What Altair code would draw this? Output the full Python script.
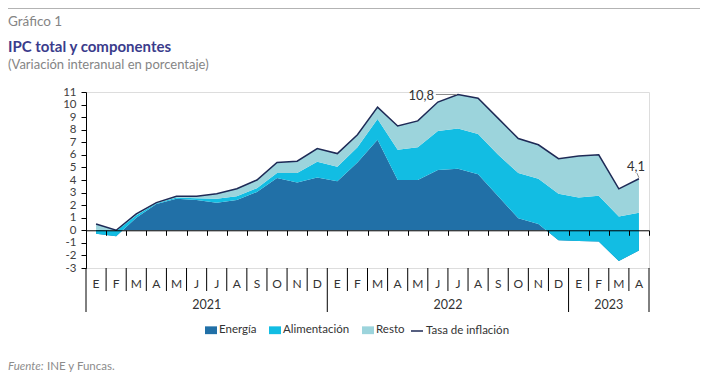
import altair as alt
import pandas as pd

# ---------------- data ----------------
months = ["E", "F", "M", "A", "M", "J", "J", "A", "S", "O", "N", "D",
          "E", "F", "M", "A", "M", "J", "J", "A", "S", "O", "N", "D",
          "E", "F", "M", "A"]
years = ["2021", "2022", "2023"]
year_centers = [6, 18, 26]

energia = [-0.27, -0.48, 1.0, 2.1, 2.5, 2.4, 2.2, 2.4, 3.05, 4.15, 3.8, 4.2,
           3.9, 5.4, 7.2, 4.0, 4.0, 4.8, 4.9, 4.45, 2.7, 0.95, 0.5, -0.8,
           -0.85, -0.9, -2.45, -1.6]
alimentacion = [0.32, 0.43, 0.2, 0.05, 0.1, 0.15, 0.3, 0.3, 0.3, 0.4, 0.75, 1.25,
                1.15, 1.2, 1.65, 2.4, 2.6, 3.1, 3.2, 3.2, 3.3, 3.6, 3.6, 3.7,
                3.45, 3.65, 3.55, 3.0]
resto = [0.45, 0.05, 0.1, 0.05, 0.1, 0.15, 0.4, 0.6, 0.65, 0.85, 0.95, 1.05,
         1.05, 1.0, 0.95, 1.9, 2.1, 2.3, 2.7, 2.85, 2.9, 2.75, 2.7, 2.8,
         3.3, 3.25, 2.2, 2.7]
tasa = [0.5, 0.0, 1.3, 2.2, 2.7, 2.7, 2.9, 3.3, 4.0, 5.4, 5.5, 6.5,
        6.1, 7.6, 9.8, 8.3, 8.7, 10.2, 10.8, 10.5, 8.9, 7.3, 6.8, 5.7,
        5.9, 6.0, 3.3, 4.1]

series_names = ["Energía", "Alimentación", "Resto"]
series_colors = ["#2170a7", "#12bde3", "#9cd4dc"]
line_name = "Tasa de inflación"
line_color = "#1e2a56"

# ---------------- layout ----------------
W, H = 563, 176
YMIN, YMAX = -3, 11
zero_px = H * YMAX / (YMAX - YMIN)
FONT = "Lato"

n = len(months)
pos = [i + 0.5 for i in range(n)]
c1 = [e for e in energia]
c2 = [e + a for e, a in zip(energia, alimentacion)]
c3 = [e + a + r for e, a, r in zip(energia, alimentacion, resto)]
zeros = [0.0] * n


def band(lo, hi, name):
    return pd.DataFrame({"pos": pos, "lo": lo, "hi": hi, "serie": name})


X_AX = alt.Axis(values=list(range(n + 1)), labels=False, title=None, grid=False,
                tickSize=5, tickColor="black", domainColor="black",
                offset=-(H - zero_px), zindex=1)
Y_AX = alt.Axis(values=list(range(YMIN, YMAX + 1)), title=None, grid=False,
                tickSize=5, tickColor="black", domainColor="black",
                labelPadding=5, labelFont=FONT, labelFontSize=11.5,
                labelColor="#404040", labelExpr="'' + datum.value")
xs = alt.Scale(domain=[0, n], nice=False, zero=False)
ys = alt.Scale(domain=[YMIN, YMAX], nice=False, zero=False)

fill_legend = alt.Legend(orient="none", legendX=119, legendY=232,
                         direction="horizontal", title=None,
                         symbolType="M-1,-0.65H1V0.65H-1Z", symbolSize=144,
                         symbolStrokeWidth=0, labelFont=FONT, labelFontSize=11.5,
                         labelColor="#333333", labelOffset=2, columnPadding=12)
color_enc = alt.Color("serie:N",
                      scale=alt.Scale(domain=series_names, range=series_colors),
                      legend=fill_legend)


def area_layer(df):
    return alt.Chart(df).mark_area(opacity=1).encode(
        x=alt.X("pos:Q", scale=xs, axis=X_AX),
        y=alt.Y("hi:Q", scale=ys, axis=Y_AX),
        y2="lo:Q",
        color=color_enc,
    )


a_e = area_layer(band(zeros, c1, series_names[0]))
a_a = area_layer(band(c1, c2, series_names[1]))
a_r = area_layer(band(c2, c3, series_names[2]))

line_df = pd.DataFrame({"pos": pos, "tasa": tasa, "s": line_name})
line = alt.Chart(line_df).mark_line(strokeWidth=1.5).encode(
    x=alt.X("pos:Q", scale=xs, axis=X_AX),
    y=alt.Y("tasa:Q", scale=ys, axis=Y_AX),
    stroke=alt.Stroke("s:N", scale=alt.Scale(domain=[line_name], range=[line_color]),
                      legend=alt.Legend(orient="none", legendX=324, legendY=232,
                                        direction="horizontal", title=None,
                                        symbolType="stroke", symbolSize=144,
                                        symbolStrokeWidth=1.5, labelFont=FONT,
                                        labelFontSize=11.5, labelColor="#333333",
                                        labelOffset=2)),
)

# annotations
ann_idx = [18, 27]
ann_text = ["10,8", "4,1"]
ann_df = pd.DataFrame({"pos": [pos[i] for i in ann_idx],
                       "v": [tasa[i] for i in ann_idx], "t": ann_text})
ann1 = alt.Chart(ann_df.iloc[[0]]).mark_text(
    align="right", baseline="middle", dx=-24, dy=1, font=FONT, fontSize=13,
    color="#333333").encode(x=alt.X("pos:Q", scale=xs, axis=X_AX),
                            y=alt.Y("v:Q", scale=ys, axis=Y_AX), text="t:N")
ann2 = alt.Chart(ann_df.iloc[[1]]).mark_text(
    align="center", baseline="middle", dx=-3, dy=-12, font=FONT, fontSize=13,
    color="#333333").encode(x=alt.X("pos:Q", scale=xs, axis=X_AX),
                            y=alt.Y("v:Q", scale=ys, axis=Y_AX), text="t:N")
lead_df = pd.DataFrame({"x1": [pos[18] - 1.1, pos[27] - 0.1],
                        "x2": [pos[18] - 0.05, pos[27]],
                        "y1": [tasa[18], tasa[27] + 0.45],
                        "y2": [tasa[18], tasa[27] + 0.08]})
leaders = alt.Chart(lead_df).mark_rule(color="#8c8c8c", strokeWidth=1).encode(
    x=alt.X("x1:Q", scale=xs, axis=X_AX), x2="x2:Q",
    y=alt.Y("y1:Q", scale=ys, axis=Y_AX), y2="y2:Q")

# category axis below the plot
month_df = pd.DataFrame({"pos": pos, "m": months})
month_txt = alt.Chart(month_df).mark_text(
    baseline="middle", font=FONT, fontSize=12, color="#333333").encode(
    x=alt.X("pos:Q", scale=xs, axis=X_AX), y=alt.value(H + 15.5), text="m:N")
year_df = pd.DataFrame({"pos": year_centers, "y": years})
year_txt = alt.Chart(year_df).mark_text(
    baseline="middle", font=FONT, fontSize=12.5, color="#333333").encode(
    x=alt.X("pos:Q", scale=xs, axis=X_AX), y=alt.value(H + 37), text="y:N")

year_bounds = [0, 12, 24, 28]
short_df = pd.DataFrame({"k": [k for k in range(1, n) if k not in year_bounds]})
long_df = pd.DataFrame({"k": year_bounds})
sep_short = alt.Chart(short_df).mark_rule(color="black", strokeWidth=1).encode(
    x=alt.X("k:Q", scale=xs, axis=X_AX), y=alt.value(H), y2=alt.value(H + 23))
sep_long = alt.Chart(long_df).mark_rule(color="black", strokeWidth=1).encode(
    x=alt.X("k:Q", scale=xs, axis=X_AX), y=alt.value(H), y2=alt.value(H + 44))

# page texts and frame lines (pixel layout relative to the plot origin)
frame_df = pd.DataFrame({"a": [0]})
top_rule = alt.Chart(frame_df).mark_rule(color="#9a9a9a", strokeWidth=1.5).encode(
    x=alt.value(-78), x2=alt.value(614), y=alt.value(-84))
bot_rule = alt.Chart(frame_df).mark_rule(color="#9a9a9a", strokeWidth=1.5).encode(
    x=alt.value(-78), x2=alt.value(614), y=alt.value(287))
t_graf = alt.Chart(frame_df).mark_text(
    align="left", baseline="middle", font=FONT, fontSize=13.5, color="#858585",
    text="Gráfico 1").encode(x=alt.value(-78), y=alt.value(-70))
t_title = alt.Chart(frame_df).mark_text(
    align="left", baseline="middle", font=FONT, fontSize=15, fontWeight="bold",
    color="#3a3c8c", text="IPC total y componentes").encode(
    x=alt.value(-78), y=alt.value(-45))
t_sub = alt.Chart(frame_df).mark_text(
    align="left", baseline="middle", font=FONT, fontSize=13, color="#858585",
    text="(Variación interanual en porcentaje)").encode(
    x=alt.value(-78), y=alt.value(-27))
t_src1 = alt.Chart(frame_df).mark_text(
    align="left", baseline="middle", font=FONT, fontSize=11.5, fontStyle="italic",
    color="#8c8c8c", text="Fuente:").encode(x=alt.value(-78), y=alt.value(275))
t_src2 = alt.Chart(frame_df).mark_text(
    align="left", baseline="middle", font=FONT, fontSize=11.5,
    color="#8c8c8c", text="INE y Funcas.").encode(x=alt.value(-39), y=alt.value(275))

chart = alt.layer(
    a_e, a_a, a_r, line, leaders, ann1, ann2,
    month_txt, year_txt, sep_short, sep_long,
    top_rule, bot_rule, t_graf, t_title, t_sub, t_src1, t_src2,
).properties(
    width=W, height=H,
    autosize=alt.AutoSizeParams(type="none"),
    padding={"left": 78, "top": 84, "right": 52, "bottom": 104},
).configure_view(stroke=None).configure(font=FONT, background="white")

chart.save("out.html", embed_options={"renderer": "svg", "actions": False})
